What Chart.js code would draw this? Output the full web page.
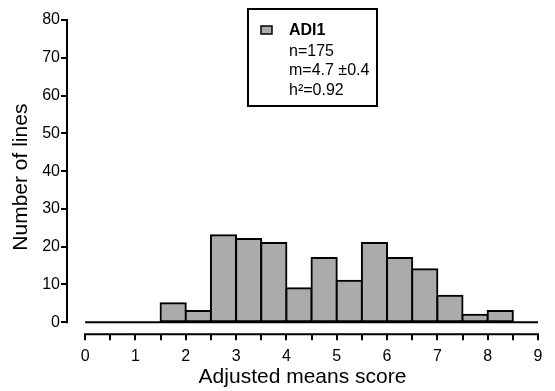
<!DOCTYPE html>
<html><head><meta charset="utf-8">
<script src="https://cdn.jsdelivr.net/npm/chart.js@4.4.1/dist/chart.umd.min.js"></script>
<style>html,body{margin:0;padding:0;background:#fff;overflow:hidden}#wrap{position:relative;width:555px;height:391px}</style>
</head><body><div id="wrap"><canvas id="c" width="555" height="391"></canvas></div>
<script>
const seriesName = 'ADI1';
const binCenters = [0.25,0.75,1.25,1.75,2.25,2.75,3.25,3.75,4.25,4.75,5.25,5.75,6.25,6.75,7.25,7.75,8.25,8.75];
const counts =     [0,   0,   0,   5,   3,   23,  22,  21,  9,   17,  11,  21,  17,  14,  7,   2,   3,   0];
const xTicks = [0,0.5,1,1.5,2,2.5,3,3.5,4,4.5,5,5.5,6,6.5,7,7.5,8,8.5,9];
const yTicks = [0,10,20,30,40,50,60,70,80];
const statsLines = ['n=175','m=4.7 \u00b10.4','h\u00b2=0.92'];
const xTitle = 'Adjusted means score';
const yTitle = 'Number of lines';

const FONT = "'Liberation Sans', Arial, Helvetica, sans-serif";
const BAR_FILL = '#ababab';

const axisPlugin = {
  id: 'customAxes',
  afterDatasetsDraw(chart) {
    const {ctx, chartArea, scales: {x, y}} = chart;
    const x0 = x.getPixelForValue(xTicks[0]);
    const x1 = x.getPixelForValue(xTicks[xTicks.length - 1]);
    ctx.save();
    ctx.strokeStyle = '#000';
    ctx.lineWidth = 2;
    ctx.beginPath();
    ctx.moveTo(chartArea.left, y.getPixelForValue(yTicks[yTicks.length - 1]) - 1);
    ctx.lineTo(chartArea.left, y.getPixelForValue(yTicks[0]) + 1);
    ctx.moveTo(x0 - 1, chartArea.bottom);
    ctx.lineTo(x1 + 1, chartArea.bottom);
    ctx.moveTo(x0, y.getPixelForValue(0));
    ctx.lineTo(x1, y.getPixelForValue(0));
    ctx.stroke();
    ctx.restore();
  }
};

const legendPlugin = {
  id: 'statsLegend',
  afterDraw(chart) {
    const ctx = chart.ctx;
    ctx.save();
    ctx.strokeStyle = '#000';
    ctx.lineWidth = 2;
    ctx.strokeRect(248, 9, 129, 97);
    ctx.fillStyle = BAR_FILL;
    ctx.fillRect(261, 26, 11, 8);
    ctx.lineWidth = 1.5;
    ctx.strokeRect(261, 26, 11, 8);
    ctx.fillStyle = '#000';
    ctx.textBaseline = 'alphabetic';
    ctx.textAlign = 'left';
    ctx.font = 'bold 16px ' + FONT;
    ctx.fillText(seriesName, 289, 35);
    ctx.font = '16px ' + FONT;
    statsLines.forEach((t, i) => ctx.fillText(t, 289, 55.5 + i * 19.5));
    ctx.restore();
  }
};

new Chart(document.getElementById('c'), {
  type: 'bar',
  data: {
    datasets: [{
      label: seriesName,
      data: binCenters.map((x, i) => ({x: x, y: counts[i]})),
      backgroundColor: c => (c.raw && c.raw.y === 0) ? 'rgba(0,0,0,0)' : BAR_FILL,
      borderColor: c => (c.raw && c.raw.y === 0) ? 'rgba(0,0,0,0)' : '#000',
      borderWidth: 2,
      borderSkipped: false,
      inflateAmount: 1,
      barPercentage: 1,
      categoryPercentage: 1
    }]
  },
  options: {
    responsive: false,
    animation: false,
    events: [],
    layout: {padding: {left: 9, right: 17, top: 20, bottom: 1.5}},
    plugins: {legend: {display: false}, tooltip: {enabled: false}},
    scales: {
      x: {
        type: 'linear', min: -0.36, max: 9, offset: false,
        afterBuildTicks: s => { s.ticks = xTicks.map(v => ({value: v})); },
        ticks: {autoSkip: false, maxRotation: 0, padding: 8, color: '#000',
          font: {family: FONT, size: 16, lineHeight: 1},
          callback: v => Number.isInteger(v) ? String(v) : ''},
        grid: {display: true, offset: false, drawOnChartArea: false, drawTicks: true,
          tickLength: 6, color: '#000', lineWidth: 2},
        border: {display: false},
        title: {display: true, text: xTitle, color: '#000',
          font: {family: FONT, size: 21}, padding: {top: -8, bottom: 0}}
      },
      y: {
        min: -3.2, max: 80,
        afterBuildTicks: s => { s.ticks = yTicks.map(v => ({value: v})); },
        ticks: {padding: 1, color: '#000', font: {family: FONT, size: 16}},
        grid: {display: true, drawOnChartArea: false, drawTicks: true,
          tickLength: 6, color: '#000', lineWidth: 2},
        border: {display: false},
        title: {display: true, text: yTitle, color: '#000',
          font: {family: FONT, size: 21}, padding: {top: 0, bottom: 7}}
      }
    }
  },
  plugins: [axisPlugin, legendPlugin]
});
</script></body></html>
